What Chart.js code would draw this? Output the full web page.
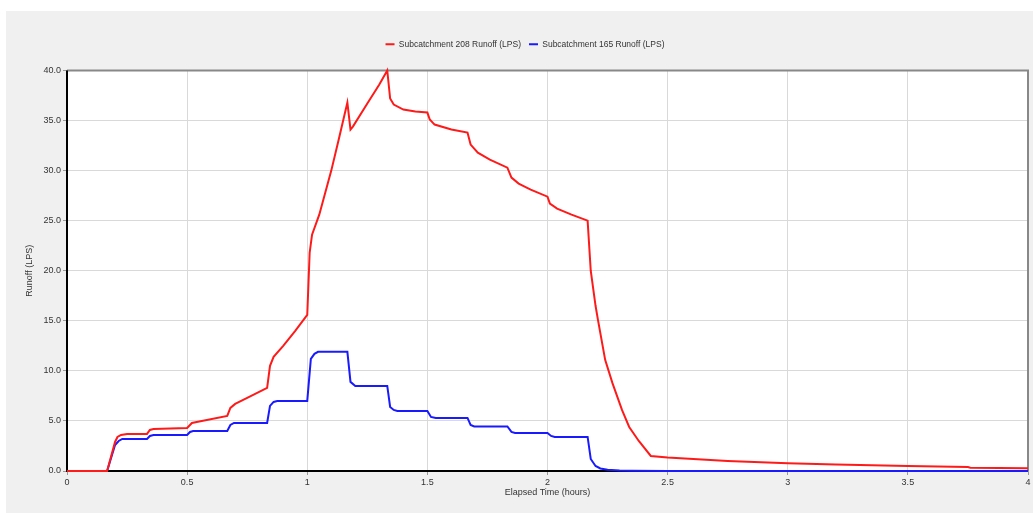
<!DOCTYPE html>
<html>
<head>
<meta charset="utf-8">
<script src="https://cdn.jsdelivr.net/npm/chart.js@4/dist/chart.umd.min.js"></script>
<style>
  html, body { margin: 0; padding: 0; background: #ffffff; }
  #panel { position: absolute; left: 6px; top: 11px; width: 1027px; height: 502px; background: #f0f0f0; }
  #runoffChart { display: block; }
</style>
</head>
<body>
<div id="panel"><canvas id="runoffChart" width="1027" height="502"></canvas></div>
<script>
// series names
var seriesNames = ["Subcatchment 208 Runoff (LPS)", "Subcatchment 165 Runoff (LPS)"];

// Subcatchment 208 - elapsed time (hours) and runoff (LPS)
var time208 = [0, 0.167, 0.2, 0.21, 0.225, 0.25, 0.333, 0.345, 0.36, 0.5, 0.52, 0.54, 0.667, 0.68, 0.7, 0.75,
    0.833, 0.845, 0.86, 0.9, 0.95, 1.0, 1.01, 1.02, 1.05, 1.1, 1.13, 1.167, 1.18, 1.19, 1.25, 1.3, 1.333,
    1.345, 1.36, 1.4, 1.45, 1.5, 1.51, 1.53, 1.6, 1.667, 1.68, 1.71, 1.76, 1.833, 1.85, 1.88, 1.93, 2.0,
    2.01, 2.04, 2.1, 2.167, 2.18, 2.2, 2.21, 2.24, 2.27, 2.31, 2.34, 2.38, 2.43, 2.5, 2.75, 3.0, 3.2,
    3.5, 3.75, 3.76, 4.0];
var runoff208 = [0, 0, 2.9, 3.4, 3.6, 3.7, 3.7, 4.1, 4.2, 4.3, 4.8, 4.9, 5.5, 6.3, 6.7, 7.3,
    8.3, 10.5, 11.4, 12.5, 14.0, 15.6, 21.8, 23.6, 25.6, 30.0, 33.0, 36.8, 34.1, 34.4, 36.7, 38.6, 40.0,
    37.2, 36.6, 36.1, 35.9, 35.8, 35.1, 34.6, 34.1, 33.8, 32.6, 31.8, 31.1, 30.3, 29.3, 28.7, 28.1, 27.4,
    26.7, 26.2, 25.6, 25.0, 20.0, 16.5, 15.1, 11.1, 8.8, 6.1, 4.4, 3.0, 1.5, 1.35, 1.0, 0.78, 0.65,
    0.5, 0.4, 0.33, 0.27];

// Subcatchment 165 - elapsed time (hours) and runoff (LPS)
var time165 = [0, 0.167, 0.2, 0.215, 0.23, 0.333, 0.345, 0.36, 0.5, 0.512, 0.525, 0.667, 0.68, 0.695,
    0.833, 0.845, 0.86, 0.875, 1.0, 1.015, 1.03, 1.045, 1.167, 1.18, 1.2, 1.333, 1.345, 1.36, 1.375, 1.5,
    1.515, 1.535, 1.667, 1.68, 1.695, 1.833, 1.85, 1.865, 2.0, 2.015, 2.03, 2.167, 2.18, 2.2, 2.22, 2.25,
    2.3, 2.35, 2.5, 4.0];
var runoff165 = [0, 0, 2.6, 3.0, 3.2, 3.2, 3.5, 3.6, 3.6, 3.9, 4.0, 4.0, 4.6, 4.8,
    4.8, 6.5, 6.9, 7.0, 7.0, 11.2, 11.7, 11.9, 11.9, 8.9, 8.5, 8.5, 6.4, 6.1, 6.0, 6.0,
    5.4, 5.3, 5.3, 4.6, 4.45, 4.45, 3.9, 3.8, 3.8, 3.5, 3.4, 3.4, 1.2, 0.5, 0.25, 0.12,
    0.06, 0.03, 0.01, 0.0];

// axis ticks
var xTicks = [0, 0.5, 1, 1.5, 2, 2.5, 3, 3.5, 4];
var yTicks = [0, 5, 10, 15, 20, 25, 30, 35, 40];

function toPoints(xs, ys) {
    var pts = [];
    for (var i = 0; i < xs.length; i++) {
        pts.push({ x: xs[i], y: ys[i] });
    }
    return pts;
}

// white plot area + frame (gray top/right, black left/bottom), drawn under the lines
var plotFrame = {
    id: 'plotFrame',
    afterInit: function (chart) {
        // leave some room under the legend
        var legend = chart.legend;
        if (legend) {
            var origFit = legend.fit;
            legend.fit = function () {
                origFit.call(this);
                this.height += 12;
            };
        }
    },
    afterLayout: function (chart) {
        // legend sits a little right of centre in the original
        if (chart.legend) {
            chart.legend.left += 16;
        }
    },
    beforeDraw: function (chart) {
        var a = chart.chartArea;
        chart.ctx.save();
        chart.ctx.fillStyle = '#ffffff';
        chart.ctx.fillRect(a.left, a.top, a.right - a.left, a.bottom - a.top);
        chart.ctx.restore();
    },
    beforeDatasetsDraw: function (chart) {
        var a = chart.chartArea;
        var ctx = chart.ctx;
        ctx.save();
        ctx.lineWidth = 2;
        ctx.strokeStyle = '#888888';
        ctx.beginPath();
        ctx.moveTo(a.left, a.top);
        ctx.lineTo(a.right, a.top);
        ctx.lineTo(a.right, a.bottom);
        ctx.stroke();
        ctx.strokeStyle = '#000000';
        ctx.beginPath();
        ctx.moveTo(a.left, a.top);
        ctx.lineTo(a.left, a.bottom);
        ctx.lineTo(a.right, a.bottom);
        ctx.stroke();
        ctx.restore();
    }
};

var smallFont = { family: 'Liberation Sans, Arial, sans-serif', size: 8.5 };
var tickFont = { family: 'Liberation Sans, Arial, sans-serif', size: 9 };

var ctx = document.getElementById('runoffChart').getContext('2d');
new Chart(ctx, {
    type: 'line',
    data: {
        datasets: [{
            label: seriesNames[0],
            data: toPoints(time208, runoff208),
            borderColor: '#ff1a1a',
            backgroundColor: '#ff1a1a',
            borderWidth: 2,
            pointRadius: 0,
            tension: 0,
            fill: false,
            clip: 4
        }, {
            label: seriesNames[1],
            data: toPoints(time165, runoff165),
            borderColor: '#1a1aff',
            backgroundColor: '#1a1aff',
            borderWidth: 2,
            pointRadius: 0,
            tension: 0,
            fill: false,
            clip: 4
        }]
    },
    options: {
        responsive: false,
        animation: false,
        layout: { padding: { top: 21, right: 5, left: 0, bottom: 0 } },
        plugins: {
            legend: {
                position: 'top',
                labels: {
                    usePointStyle: true,
                    pointStyle: 'line',
                    pointStyleWidth: 9,
                    boxHeight: 8,
                    padding: 8,
                    color: '#333333',
                    font: smallFont
                }
            },
            tooltip: { enabled: false }
        },
        scales: {
            x: {
                type: 'linear',
                min: 0,
                max: 4,
                afterBuildTicks: function (scale) {
                    scale.ticks = xTicks.map(function (v) { return { value: v }; });
                },
                ticks: {
                    color: '#333333',
                    font: tickFont,
                    padding: 2,
                    maxRotation: 0,
                    callback: function (v) { return String(v); }
                },
                grid: { color: '#d9d9d9', lineWidth: 1, tickLength: 4, tickColor: '#999999' },
                border: { display: false },
                title: {
                    display: true,
                    text: 'Elapsed Time (hours)',
                    color: '#333333',
                    font: tickFont,
                    padding: { top: 0, bottom: 15 }
                },
                afterFit: function (scale) { scale.height = 42; }
            },
            y: {
                min: 0,
                max: 40,
                afterBuildTicks: function (scale) {
                    scale.ticks = yTicks.map(function (v) { return { value: v }; });
                },
                ticks: {
                    color: '#333333',
                    font: tickFont,
                    padding: 2,
                    callback: function (v) { return v.toFixed(1); }
                },
                grid: { color: '#d9d9d9', lineWidth: 1, tickLength: 4, tickColor: '#999999' },
                border: { display: false },
                title: {
                    display: true,
                    text: 'Runoff (LPS)',
                    color: '#333333',
                    font: tickFont,
                    padding: { top: 18, bottom: 2 }
                },
                afterFit: function (scale) { scale.width = 61; }
            }
        }
    },
    plugins: [plotFrame]
});
</script>
</body>
</html>
